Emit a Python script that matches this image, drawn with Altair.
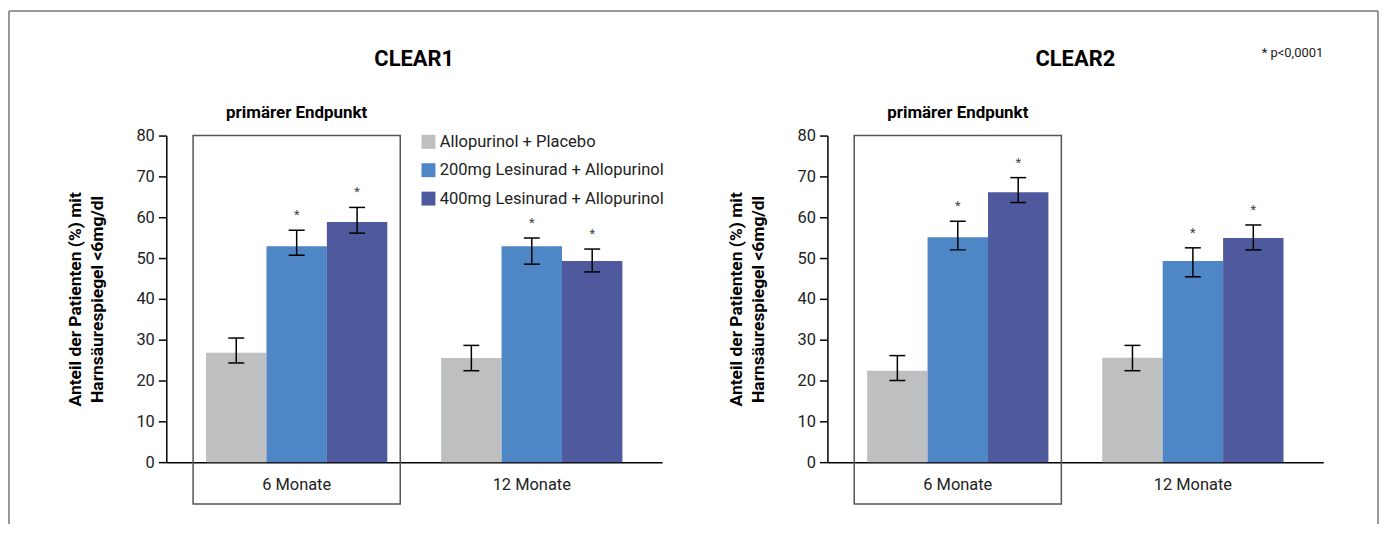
import altair as alt
import pandas as pd

FONT = "Roboto"

periods = ["6 Monate", "12 Monate"]
groups = ["Allopurinol + Placebo", "200mg Lesinurad + Allopurinol", "400mg Lesinurad + Allopurinol"]
colors = ["#BEBFC1", "#4F86C6", "#4F5A9E"]

# order: 6M (placebo, 200, 400), 12M (placebo, 200, 400)
clear1_values = [26.8, 52.9, 58.8, 25.5, 52.9, 49.3]
clear1_lo = [24.3, 50.7, 56.1, 22.4, 48.5, 46.6]
clear1_hi = [30.4, 56.8, 62.4, 28.6, 54.9, 52.2]

clear2_values = [22.4, 55.1, 66.1, 25.6, 49.3, 54.9]
clear2_lo = [20.0, 52.0, 63.6, 22.4, 45.4, 52.0]
clear2_hi = [26.1, 59.0, 69.7, 28.6, 52.5, 58.1]

stars = ["", "*", "*", "", "*", "*"]

y_title = ["Anteil der Patienten (%) mit", "Harnsäurespiegel <6mg/dl"]
endpoint_label = "primärer Endpunkt"
note_text = "* p<0,0001"

W = 498
H = 328


def panel(study, vals, lo, hi, frame=False, note=False):
    df = pd.DataFrame({
        "period": [p for p in periods for _ in groups],
        "group": groups * len(periods),
        "value": vals,
        "lo": lo,
        "hi": hi,
        "star": stars,
    })
    x_axis = alt.Axis(title=None, labelAngle=0, ticks=False, tickSize=0, labelPadding=14,
                      labelFontSize=16.5, labelColor="#222", labelFont=FONT,
                      labelAlign="center", bandPosition=0.5,
                      domainColor="black", domainWidth=1.5)
    x_scale = alt.Scale(paddingInner=0.229, paddingOuter=0.169)
    x = alt.X("period:N", sort=periods, scale=x_scale, axis=x_axis)
    xo = alt.XOffset("group:N", sort=groups, scale=alt.Scale(paddingInner=0, paddingOuter=0))
    y_scale = alt.Scale(domain=[0, 80], nice=False, zero=True)
    y = alt.Y(
        "value:Q", scale=y_scale,
        axis=alt.Axis(values=list(range(0, 81, 10)), title=y_title, grid=False,
                      tickSize=8, tickColor="black", tickWidth=1.5, domainColor="black",
                      domainWidth=1.5, labelFontSize=16.5, labelColor="#222", labelFont=FONT,
                      labelPadding=4, titleFont=FONT, titleFontSize=17.5, titleFontWeight="bold",
                      titleColor="black", titleLineHeight=22, titlePadding=30),
    )
    base = alt.Chart(df)
    bars = base.mark_bar().encode(
        x=x, xOffset=xo, y=y,
        color=alt.Color(
            "group:N", sort=groups, scale=alt.Scale(domain=groups, range=colors),
            legend=alt.Legend(title=None, orient="none", legendX=255, legendY=-2,
                              symbolType="square", symbolSize=196, symbolStrokeWidth=0,
                              symbolOpacity=1, labelFontSize=16.6, labelFont=FONT,
                              labelColor="#222", labelOffset=3, rowPadding=11.5, padding=0,
                              labelLimit=400),
        ),
    )
    xs = alt.X("period:N", sort=periods, axis=x_axis)
    xos = alt.XOffset("group:N", sort=groups)
    err = base.mark_rule(color="black", strokeWidth=1.5).encode(
        x=xs, xOffset=xos, y=alt.Y("lo:Q"), y2="hi:Q")
    cap_lo = base.mark_tick(color="black", thickness=1.5, size=16, opacity=1).encode(
        x=xs, xOffset=xos, y=alt.Y("lo:Q"))
    cap_hi = base.mark_tick(color="black", thickness=1.5, size=16, opacity=1).encode(
        x=xs, xOffset=xos, y=alt.Y("hi:Q"))
    star_txt = base.mark_text(fontSize=13, color="#444", font=FONT, dy=-15, baseline="middle").encode(
        x=xs, xOffset=xos, y=alt.Y("hi:Q"), text="star:N")

    box_df = pd.DataFrame({"period": [periods[0]], "label": [endpoint_label]})
    box = alt.Chart(box_df).mark_rect(filled=False, stroke="#555", strokeWidth=1.5,
                                      xOffset=-13, x2Offset=13).encode(
        x=alt.X("period:N", sort=periods, bandPosition=0, axis=x_axis),
        x2=alt.X2("period:N", bandPosition=1),
        y=alt.datum(80),
        y2=alt.value(H + 42),
    )
    endpoint = alt.Chart(box_df).mark_text(fontSize=17, fontWeight="bold", font=FONT,
                                           color="black").encode(
        x=xs, y=alt.value(-23), text="label:N")
    title_df = pd.DataFrame({"t": [study]})
    title = alt.Chart(title_df).mark_text(fontSize=22, fontWeight="bold", font=FONT,
                                          color="black").encode(
        x=alt.value(W / 2), y=alt.value(-77), text="t:N")

    layers = [bars, box, err, cap_lo, cap_hi, star_txt, endpoint, title]
    if note:
        note_df = pd.DataFrame({"t": [note_text]})
        layers.append(alt.Chart(note_df).mark_text(fontSize=13, font=FONT, color="#222",
                                                   align="right").encode(
            x=alt.value(W), y=alt.value(-83), text="t:N"))
    if frame:
        fdf = pd.DataFrame({"a": [0]})
        top = alt.Chart(fdf).mark_rule(color="#777", strokeWidth=1.5).encode(
            x=alt.value(-158), x2=alt.value(1217), y=alt.value(-125))
        left = alt.Chart(fdf).mark_rule(color="#777", strokeWidth=1.5).encode(
            x=alt.value(-158), y=alt.value(-125), y2=alt.value(390))
        right = alt.Chart(fdf).mark_rule(color="#777", strokeWidth=1.5).encode(
            x=alt.value(1217), y=alt.value(-125), y2=alt.value(390))
        layers = layers + [top, left, right]
    return alt.layer(*layers).properties(width=W, height=H)


left_panel = panel("CLEAR1", clear1_values, clear1_lo, clear1_hi, frame=True)
right_panel = panel("CLEAR2", clear2_values, clear2_lo, clear2_hi, note=True)

chart = alt.hconcat(left_panel, right_panel, spacing=166, bounds="flush").properties(
    padding={"left": 0, "top": 1, "right": 0, "bottom": 0}
).configure(font=FONT).configure_view(stroke="transparent", strokeWidth=0)

chart.save("out.html", embed_options={"renderer": "svg", "actions": False})
